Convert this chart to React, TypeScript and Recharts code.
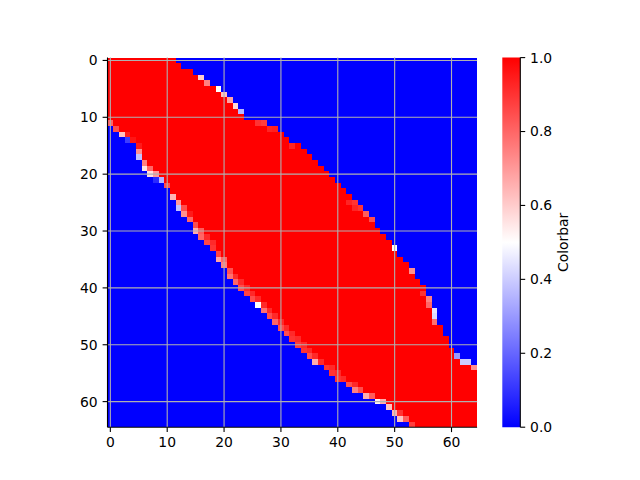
import React from 'react';
import { BarChart, Bar, XAxis, YAxis, ReferenceLine } from 'recharts';

// Row (category) indices of the 65 x 65 image, top to bottom
const rowLabels = [
  0, 1, 2, 3, 4, 5, 6, 7, 8, 9, 10, 11, 12, 13, 14, 15, 16, 17, 18, 19, 20, 21, 22, 23, 24, 25, 26, 27, 28, 29, 30, 31, 32,
  33, 34, 35, 36, 37, 38, 39, 40, 41, 42, 43, 44, 45, 46, 47, 48, 49, 50, 51, 52, 53, 54, 55, 56, 57, 58, 59, 60, 61, 62,
  63, 64,
];
const nCols = 65;

// first non-blue column of each row (lower-left edge of the band)
const lowerStart = [
  0, 0, 0, 0, 0, 0, 0, 0, 0, 0,
  0, 0, 1, 2, 3, 5, 5, 5, 6, 6,
  7, 8, 10, 11, 11, 12, 12, 13, 14, 15,
  15, 16, 17, 18, 19, 19, 20, 21, 21, 22,
  23, 24, 25, 26, 27, 28, 29, 30, 31, 32,
  33, 34, 35, 36, 38, 39, 40, 42, 43, 45,
  47, 49, 50, 51, 53,
];
// value of that first cell
const lowerA = [
  1, 1, 1, 1, 1, 1, 1, 1, 1, 1,
  1, 0.8, 0.85, 0.62, 0.12, 0.95, 0.72, 0.38, 0.75, 0.55,
  0.56, 0.08, 0.85, 1, 0.65, 0.7, 0.38, 0.72, 0.8, 0.85,
  0.66, 0.8, 0.86, 0.9, 0.87, 0.68, 0.75, 0.84, 0.78, 0.8,
  0.85, 0.87, 0.85, 0.5, 0.78, 0.85, 0.8, 0.85, 0.85, 0.9,
  0.88, 0.9, 0.85, 0.66, 0.9, 0.9, 0.9, 0.85, 0.75, 0.66,
  0.52, 0.62, 0.65, 0.62, 0.88,
];
// value of the next cell
const lowerB = [
  1, 1, 1, 1, 1, 1, 1, 1, 1, 1,
  1, 1, 1, 0.94, 0.96, 1, 1, 1, 1, 0.8,
  0.7, 0.35, 1, 1, 1, 1, 0.85, 0.95, 1, 1,
  0.82, 0.92, 0.92, 1, 1, 0.8, 1, 1, 0.92, 0.92,
  0.92, 0.92, 0.92, 0.92, 0.92, 0.92, 0.92, 0.92, 0.92, 0.92,
  0.92, 0.92, 0.92, 0.92, 0.92, 0.92, 0.92, 0.92, 0.85, 0.82,
  0.66, 1, 0.9, 0.82, 1,
];
// last non-blue column of each row (upper-right edge of the band)
const upperEnd = [
  11, 12, 14, 16, 17, 19, 20, 21, 22, 23,
  23, 27, 29, 30, 31, 33, 34, 35, 36, 37,
  38, 39, 40, 41, 42, 43, 44, 45, 46, 46,
  47, 48, 49, 50, 50, 51, 52, 53, 53, 54,
  55, 55, 56, 56, 57, 57, 57, 58, 58, 59,
  59, 60, 61, 63, 64, 64, 64, 64, 64, 64,
  64, 64, 64, 64, 64,
];
// value of that last cell
const upperA = [
  1, 1, 1, 0.6, 0.75, 0.5, 0.62, 0.68, 0.58, 0.36,
  1, 0.88, 0.94, 1, 1, 1, 1, 1, 1, 1,
  1, 1, 1, 1, 1, 0.9, 0.9, 0.82, 0.85, 1,
  1, 1, 1, 0.5, 1, 1, 1, 0.72, 1, 1,
  1, 0.9, 0.75, 0.8, 0.45, 0.43, 0.78, 1, 1, 1,
  1, 1, 0.3, 0.4, 0.72, 1, 1, 1, 1, 1,
  1, 1, 1, 1, 1,
];
// value of the cell just before it
const upperB = [
  1, 1, 1, 1, 1, 1, 1, 1, 1, 1,
  1, 0.9, 0.93, 1, 1, 0.93, 1, 1, 1, 1,
  1, 1, 1, 1, 1, 0.93, 0.93, 1, 1, 1,
  1, 1, 1, 1, 1, 1, 1, 1, 1, 1,
  1, 1, 1, 1, 1, 1, 1, 1, 1, 1,
  1, 1, 1, 0.4, 1, 1, 1, 1, 1, 1,
  1, 1, 1, 1, 1,
];

const xTicks = [0, 10, 20, 30, 40, 50, 60];
const yTicks = [0, 10, 20, 30, 40, 50, 60];
const cbTicks = [0, 0.2, 0.4, 0.6, 0.8, 1.0];
const cbData = [{ name: 'cb', v: 1 }];

// matplotlib "bwr" colormap
function bwr(v: number): string {
  if (v < 0.5) {
    const t = Math.round(255 * 2 * v);
    return `rgb(${t},${t},255)`;
  }
  const t = Math.round(255 * 2 * (1 - v));
  return `rgb(255,${t},${t})`;
}

const table = rowLabels.map((r, i) => ({
  row: r,
  s1: lowerStart[i],
  s2: 1,
  s3: 1,
  s4: upperEnd[i] - lowerStart[i] - 3,
  s5: 1,
  s6: 1,
  s7: nCols - 1 - upperEnd[i],
  c1: bwr(0),
  c2: bwr(lowerA[i]),
  c3: bwr(lowerB[i]),
  c4: bwr(1),
  c5: bwr(upperB[i]),
  c6: bwr(upperA[i]),
  c7: bwr(0),
}));

const segs = ['1', '2', '3', '4', '5', '6', '7'];

const W = 640;
const H = 480;
const PLOT_L = 107.5;
const PLOT_T = 57.6;
const PLOT_SIZE = 369.6;
const YAXIS_W = 50;
const XAXIS_H = 30;
const band = PLOT_SIZE / rowLabels.length;

const CB_L = 502.3;
const CB_W = 18;
const CB_AXIS_W = 85.4;

const FONT = 'DejaVu Sans';
const tickStyle = { fill: '#000', fontSize: 13.9, fontFamily: FONT };
const black = { stroke: '#000', strokeWidth: 1.1 };
const gridColor = '#b0b0b0';

// cell strip snapped to whole pixels; it spans the full row band so rows meet without seams
function makeShape(k: string) {
  return (props: any) => {
    const { x, y, width, payload } = props;
    if (!(width > 0)) return <g />;
    const x0 = Math.round(x);
    const x1 = Math.round(x + width);
    const y0 = Math.round(y);
    const y1 = Math.round(y + band);
    return (
      <rect
        x={x0}
        y={y0}
        width={Math.max(0, x1 - x0)}
        height={Math.max(0, y1 - y0)}
        fill={payload['c' + k]}
        shapeRendering="crispEdges"
      />
    );
  };
}

export default function App() {
  return (
    <div style={{ position: 'absolute', left: 0, top: 0, width: W, height: H }}>
      <div style={{ position: 'absolute', left: 0, top: 0 }}>
        <BarChart
          width={W}
          height={H}
          data={table}
          layout="vertical"
          barCategoryGap={0}
          barGap={0}
          margin={{
            top: PLOT_T,
            left: PLOT_L - YAXIS_W,
            right: W - PLOT_L - PLOT_SIZE,
            bottom: H - PLOT_T - PLOT_SIZE - XAXIS_H,
          }}
        >
          <XAxis
            type="number"
            domain={[0, nCols]}
            allowDataOverflow
            ticks={xTicks.map((t) => t + 0.5)}
            tickFormatter={(v: number) => String(v - 0.5)}
            interval={0}
            height={XAXIS_H}
            tickSize={4.9}
            tickMargin={4.9}
            axisLine={black}
            tickLine={black}
            tick={tickStyle}
          />
          <XAxis
            xAxisId="top"
            orientation="top"
            type="number"
            domain={[0, nCols]}
            height={0}
            tick={false}
            tickLine={false}
            axisLine={black}
          />
          <YAxis
            type="category"
            dataKey="row"
            interval={9}
            width={YAXIS_W}
            tickSize={4.9}
            tickMargin={4.9}
            axisLine={black}
            tickLine={black}
            tick={tickStyle}
          />
          <YAxis
            yAxisId="right"
            orientation="right"
            type="category"
            dataKey="row"
            width={0}
            tick={false}
            tickLine={false}
            axisLine={black}
          />
          {segs.map((k) => (
            <Bar
              key={k}
              dataKey={'s' + k}
              stackId="a"
              isAnimationActive={false}
              shape={makeShape(k)}
            />
          ))}
          {xTicks.map((t) => (
            <ReferenceLine key={'gx' + t} x={t + 0.5} stroke={gridColor} strokeWidth={1.1} />
          ))}
          {yTicks.map((t) => (
            <ReferenceLine key={'gy' + t} y={t} stroke={gridColor} strokeWidth={1.1} />
          ))}
        </BarChart>
      </div>
      <div style={{ position: 'absolute', left: 0, top: 0 }}>
        <BarChart
          width={W}
          height={H}
          data={cbData}
          barCategoryGap={0}
          barGap={0}
          margin={{
            top: PLOT_T,
            left: CB_L,
            right: W - CB_L - CB_W - CB_AXIS_W,
            bottom: H - PLOT_T - PLOT_SIZE,
          }}
        >
          <defs>
            <linearGradient id="bwrGrad" x1="0" y1="0" x2="0" y2="1">
              <stop offset="0" stopColor={bwr(1)} />
              <stop offset="0.5" stopColor={bwr(0.5)} />
              <stop offset="1" stopColor={bwr(0)} />
            </linearGradient>
          </defs>
          <XAxis dataKey="name" type="category" height={0} tick={false} tickLine={false} axisLine={black} />
          <XAxis
            xAxisId="top"
            orientation="top"
            dataKey="name"
            type="category"
            height={0}
            tick={false}
            tickLine={false}
            axisLine={black}
          />
          <YAxis
            yAxisId="left"
            orientation="left"
            type="number"
            domain={[0, 1]}
            width={0}
            tick={false}
            tickLine={false}
            axisLine={black}
          />
          <YAxis
            orientation="right"
            type="number"
            domain={[0, 1]}
            ticks={cbTicks}
            interval={0}
            tickFormatter={(v: number) => v.toFixed(1)}
            width={CB_AXIS_W}
            tickSize={4.9}
            tickMargin={4.9}
            axisLine={black}
            tickLine={black}
            tick={tickStyle}
            label={{
              value: 'Colorbar',
              angle: -90,
              position: 'center',
              style: { fill: '#000', fontSize: 13.9, fontFamily: FONT },
            }}
          />
          <Bar dataKey="v" fill="url(#bwrGrad)" isAnimationActive={false} />
        </BarChart>
      </div>
    </div>
  );
}
